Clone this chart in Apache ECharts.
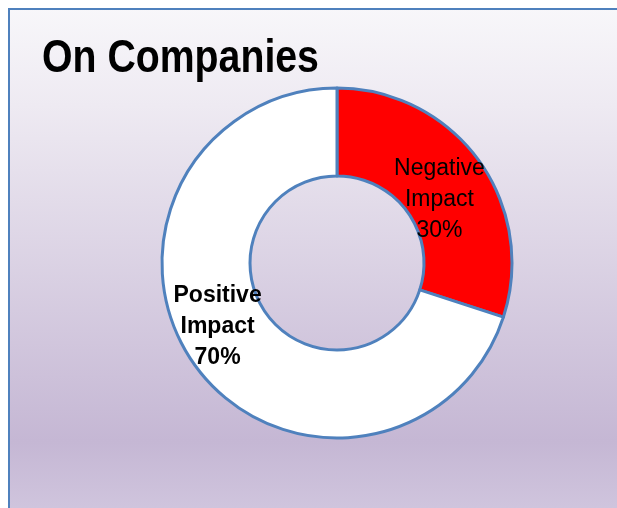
<!DOCTYPE html>
<html><head><meta charset="utf-8">
<script src="https://cdn.jsdelivr.net/npm/echarts@6/dist/echarts.min.js"></script>
<style>html,body{margin:0;padding:0;background:#fff}#c{width:617px;height:508px}</style>
</head><body><div id="c"></div>
<script>
const titleText = "On Companies";
const categories = ["Negative\nImpact", "Positive\nImpact"];
const values = [30, 70];
const colors = ["#ff0000", "#ffffff"];

const chart = echarts.init(document.getElementById('c'));
const font = '"Liberation Sans", Arial, sans-serif';
chart.setOption({
  animation: false,
  graphic: [{
    type: 'rect', z: -10, silent: true,
    shape: { x: 9, y: 9, width: 640, height: 540 },
    style: {
      fill: new echarts.graphic.LinearGradient(0, 0, 0, 1, [
        { offset: 0, color: '#f8f7fa' },
        { offset: 0.18, color: '#eeeaf2' },
        { offset: 0.8, color: '#c5b7d4' },
        { offset: 1, color: '#d6cde3' }
      ]),
      stroke: '#4f81bd', lineWidth: 2
    }
  }, {
    type: 'text', silent: true,
    x: 42, y: 36, scaleX: 0.835, originX: 0, originY: 0,
    style: {
      text: titleText, fill: '#000', font: 'bold 47px ' + font,
      verticalAlign: 'top', align: 'left'
    }
  }],
  series: [{
    type: 'pie',
    center: [337, 263],
    radius: [87, 175],
    startAngle: 90,
    clockwise: true,
    itemStyle: { borderColor: '#4f81bd', borderWidth: 3 },
    emphasis: { disabled: true },
    label: {
      show: true, position: 'inside', color: '#000',
      fontFamily: font, fontSize: 23, lineHeight: 31,
      formatter: p => p.name + '\n' + p.value + '%'
    },
    labelLayout: function (params) {
      return params.dataIndex === 0 ? { dx: -6, dy: 15 } : { dx: -11, dy: -15 };
    },
    data: categories.map((c, i) => ({
      name: c, value: values[i],
      itemStyle: { color: colors[i] },
      label: i === 1 ? { fontWeight: 'bold' } : { fontWeight: 'normal' }
    }))
  }]
});
</script></body></html>
